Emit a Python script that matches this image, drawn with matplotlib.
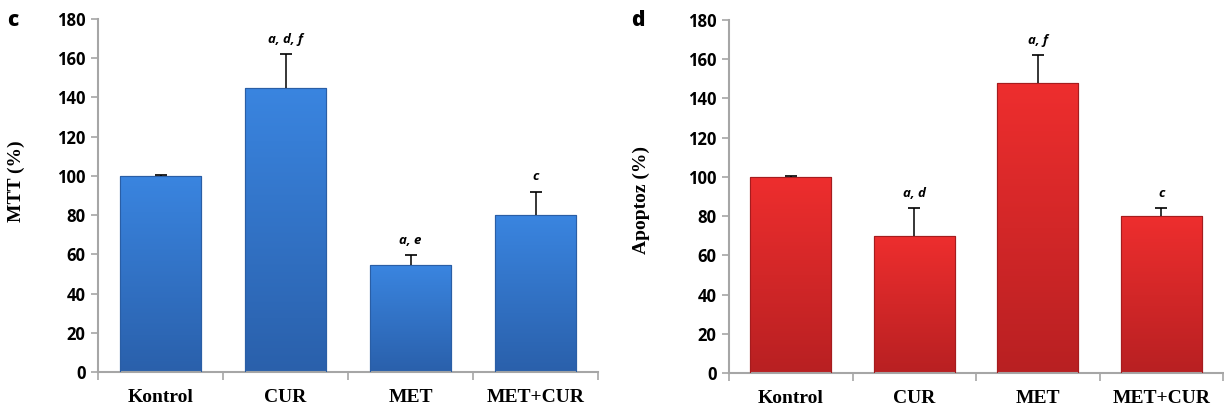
import numpy as np
import matplotlib
matplotlib.use("Agg")
import matplotlib.pyplot as plt
from matplotlib.colors import LinearSegmentedColormap

categories = ["Kontrol", "CUR", "MET", "MET+CUR"]

mtt_values = [100, 145, 54.5, 80]
mtt_errors = [0.4, 17, 5, 12]
mtt_labels = ["", "a, d, f", "a, e", "c"]

apop_values = [100, 70, 148, 80]
apop_errors = [0.4, 14, 14, 4]
apop_labels = ["", "a, d", "a, f", "c"]

yticks = [0, 20, 40, 60, 80, 100, 120, 140, 160, 180]

fig = plt.figure(figsize=(12.24, 4.08), dpi=100)

SPINE = "#a6a6a6"


def draw_panel(ax, values, errors, labels, top_col, bot_col, edge_col, ylabel):
    x = np.arange(len(categories))
    vals = np.array(values, dtype=float)
    errs = np.array(errors, dtype=float)
    bars = ax.bar(x, vals, width=0.655, color=bot_col, edgecolor=edge_col,
                  linewidth=0.8, zorder=2)
    cmap = LinearSegmentedColormap.from_list("g", [bot_col, top_col])
    grad = np.linspace(0, 1, 256).reshape(-1, 1)
    for b in bars:
        bx, by, bw, bh = b.get_x(), b.get_y(), b.get_width(), b.get_height()
        im = ax.imshow(grad, cmap=cmap, origin="lower", aspect="auto",
                       extent=(bx, bx + bw, by, by + bh), zorder=2.5)
        im.set_clip_path(b)
    ax.bar(x, vals, width=0.655, color="none", edgecolor=edge_col,
           linewidth=0.8, zorder=3)
    # upper-only error bars
    ax.vlines(x, vals, vals + errs, colors="black", linewidth=1.1, zorder=4)
    ax.plot(x, vals + errs, linestyle="none", marker="_", markersize=9,
            markeredgewidth=1.2, color="black", zorder=4)
    for xi, v, e, t in zip(x, vals, errs, labels):
        if t:
            ax.annotate(t, xy=(xi, v + e), xytext=(0, 6), textcoords="offset points",
                        ha="center", va="bottom", fontsize=9.5, fontweight="bold",
                        fontstyle="italic", family="Open Sans")
    ax.set_xlim(-0.5, len(categories) - 0.5)
    ax.set_ylim(0, 180)
    ax.set_yticks(yticks)
    ax.set_yticklabels([str(t) for t in yticks], fontsize=12, fontweight="bold",
                       family="Open Sans")
    ax.set_xticks(x)
    ax.set_xticklabels(categories, fontsize=14, fontweight="bold",
                       family="Liberation Serif")
    ax.set_xticks(np.arange(len(categories) + 1) - 0.5, minor=True)
    ax.tick_params(axis="x", which="major", length=0, pad=12)
    ax.tick_params(axis="x", which="minor", length=6, width=1.2, color=SPINE, direction="out")
    ax.tick_params(axis="y", length=5, width=1.2, color=SPINE, pad=4)
    for s in ["top", "right"]:
        ax.spines[s].set_visible(False)
    for s in ["left", "bottom"]:
        ax.spines[s].set_color(SPINE)
        ax.spines[s].set_linewidth(1.5)
    ax.set_ylabel(ylabel, fontsize=14, fontweight="bold", family="Liberation Serif")


ax1 = fig.add_axes([98 / 1224, 36 / 408, 500 / 1224, 353 / 408])
draw_panel(ax1, mtt_values, mtt_errors, mtt_labels, "#3a85e0", "#2a60ab", "#2a5ea5", "MTT (%)")
ax1.yaxis.set_label_coords(-73 / 500, (372 - 181) / 353)

ax2 = fig.add_axes([729 / 1224, 35 / 408, 494 / 1224, 353 / 408])
draw_panel(ax2, apop_values, apop_errors, apop_labels, "#ee2e2e", "#b82022", "#a51c1e", "Apoptoz (%)")
ax2.yaxis.set_label_coords(-79 / 494, (373 - 200) / 353)

fig.text(13 / 1224, 1 - 21 / 408, "c", fontsize=15, fontweight="heavy", family="Open Sans",
         ha="center", va="center")
fig.text(638 / 1224, 1 - 21 / 408, "d", fontsize=15, fontweight="heavy", family="Open Sans",
         ha="center", va="center")

fig.savefig("out.png", dpi=100)
